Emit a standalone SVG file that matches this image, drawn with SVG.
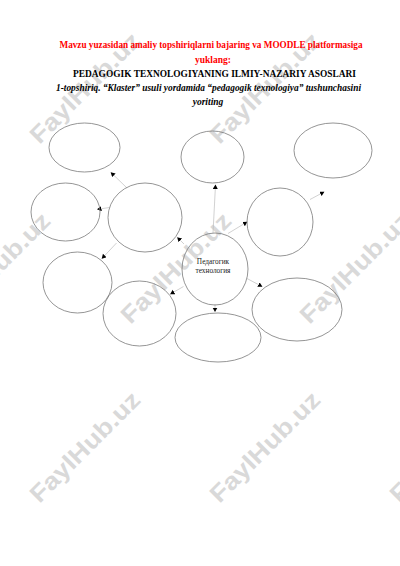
<svg xmlns="http://www.w3.org/2000/svg" width="400" height="566" viewBox="0 0 400 566">
<defs>
<style>
.wm{font-family:"Liberation Sans",Arial,sans-serif;font-weight:bold;font-size:24px;fill:#d9d9d9}
.node{fill:none;stroke:#7a7a7a;stroke-width:0.8}
.conn{stroke:#bdbdbd;stroke-width:0.7;fill:none;marker-end:url(#ah)}
.hd{font-family:"Liberation Serif","Times New Roman",serif;font-weight:bold;text-anchor:middle}
.lbl{font-family:"Liberation Serif","Times New Roman",serif;font-size:7.3px;fill:#222;text-anchor:middle}
</style>
<marker id="ah" markerUnits="userSpaceOnUse" markerWidth="6" markerHeight="6" refX="4" refY="2.5" orient="auto">
<path d="M0,0 L4.5,2.5 L0,5 Z" fill="#000"/>
</marker>
</defs>
<rect width="400" height="566" fill="#fff"/>
<g id="watermarks">
<text class="wm" transform="translate(85,88) rotate(-45)" text-anchor="middle" dy="8" textLength="145" lengthAdjust="spacingAndGlyphs">FaylHub.uz</text>
<text class="wm" transform="translate(265,88) rotate(-45)" text-anchor="middle" dy="8" textLength="145" lengthAdjust="spacingAndGlyphs">FaylHub.uz</text>
<text class="wm" transform="translate(-5,268) rotate(-45)" text-anchor="middle" dy="8" textLength="145" lengthAdjust="spacingAndGlyphs">FaylHub.uz</text>
<text class="wm" transform="translate(176,268) rotate(-45)" text-anchor="middle" dy="8" textLength="145" lengthAdjust="spacingAndGlyphs">FaylHub.uz</text>
<text class="wm" transform="translate(355,268) rotate(-45)" text-anchor="middle" dy="8" textLength="145" lengthAdjust="spacingAndGlyphs">FaylHub.uz</text>
<text class="wm" transform="translate(85,447) rotate(-45)" text-anchor="middle" dy="8" textLength="145" lengthAdjust="spacingAndGlyphs">FaylHub.uz</text>
<text class="wm" transform="translate(265,447) rotate(-45)" text-anchor="middle" dy="8" textLength="145" lengthAdjust="spacingAndGlyphs">FaylHub.uz</text>
<text class="wm" transform="translate(445,447) rotate(-45)" text-anchor="middle" dy="8" textLength="145" lengthAdjust="spacingAndGlyphs">FaylHub.uz</text>
</g>
<g id="header">
<text class="hd" x="211" y="47.5" font-size="9.5" fill="#ff0000" textLength="303" lengthAdjust="spacingAndGlyphs">Mavzu yuzasidan amaliy topshiriqlarni bajaring va MOODLE platformasiga</text>
<text class="hd" x="213" y="62.5" font-size="9.5" fill="#ff0000">yuklang:</text>
<text class="hd" x="214.5" y="77" font-size="9.5" fill="#000" textLength="283" lengthAdjust="spacingAndGlyphs">PEDAGOGIK TEXNOLOGIYANING ILMIY-NAZARIY ASOSLARI</text>
<text class="hd" x="208.5" y="91" font-size="9.5" fill="#000" font-style="italic" textLength="305" lengthAdjust="spacingAndGlyphs">1-topshiriq. “Klaster” usuli yordamida “pedagogik texnologiya” tushunchasini</text>
<text class="hd" x="208" y="105" font-size="9.5" fill="#000" font-style="italic">yoriting</text>
</g>
<g id="connectors">
<line class="conn" x1="127" y1="188" x2="111" y2="172.5"/>
<line class="conn" x1="109.5" y1="207.5" x2="97.5" y2="209.3"/>
<line class="conn" x1="213" y1="233" x2="215.5" y2="185"/>
<line class="conn" x1="228" y1="233.5" x2="247" y2="222"/>
<line class="conn" x1="310" y1="199.5" x2="324" y2="192"/>
<line class="conn" x1="184" y1="244" x2="177.5" y2="237.5"/>
<line class="conn" x1="116.5" y1="243" x2="102" y2="258.5"/>
<line class="conn" x1="183.5" y1="286.5" x2="170.5" y2="294"/>
<line class="conn" x1="215" y1="304" x2="215" y2="311.5"/>
<line class="conn" x1="247" y1="278.5" x2="262" y2="286.5"/>
</g>
<g id="n-topleft"><ellipse class="node" cx="84.5" cy="147.5" rx="35.5" ry="24.5"/></g>
<g id="n-topcenter"><ellipse class="node" cx="212.5" cy="157" rx="31.5" ry="26"/></g>
<g id="n-topright"><ellipse class="node" cx="333" cy="150.5" rx="39" ry="27.5"/></g>
<g id="n-midleft"><ellipse class="node" cx="65.5" cy="212" rx="34.5" ry="29"/></g>
<g id="n-bigleft"><ellipse class="node" cx="145" cy="217.5" rx="37" ry="34.5"/></g>
<g id="n-midright"><ellipse class="node" cx="280" cy="222" rx="33" ry="34"/></g>
<g id="n-center"><ellipse class="node" cx="215" cy="269" rx="33" ry="36"/>
<text class="lbl" x="213" y="263.5">Педагогик</text>
<text class="lbl" x="213" y="272.5">технология</text></g>
<g id="n-lowleft"><ellipse class="node" cx="77.5" cy="282.5" rx="34.5" ry="30.5"/></g>
<g id="n-lowmidleft"><ellipse class="node" cx="139.5" cy="313.5" rx="36.5" ry="32.5"/></g>
<g id="n-bottom"><ellipse class="node" cx="218" cy="337.5" rx="43" ry="24.5"/></g>
<g id="n-lowright"><ellipse class="node" cx="297" cy="309.5" rx="45" ry="31.5"/></g>
</svg>
